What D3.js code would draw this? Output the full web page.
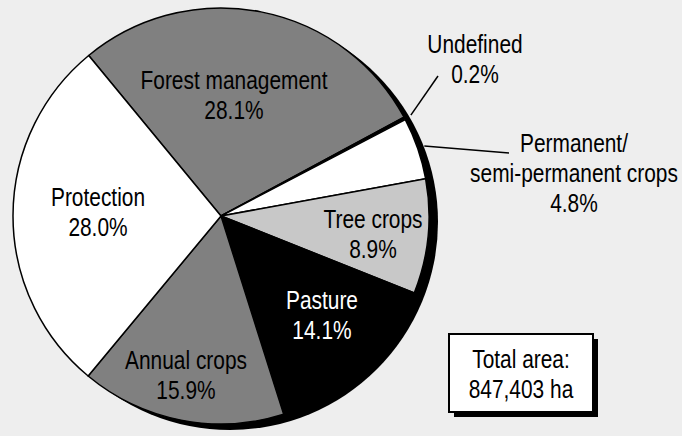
<!DOCTYPE html>
<html>
<head>
<meta charset="utf-8">
<script src="https://cdn.jsdelivr.net/npm/d3@7"></script>
<style>
  body { margin: 0; background: #eeeeee; }
  svg { display: block; }
  text { font-family: "Liberation Sans", Arial, sans-serif; font-size: 25.5px; }
</style>
</head>
<body>
<div id="chart"></div>
<script>
// land use shares, clockwise from the top-left
const categories = ["Forest management", "Undefined", "Permanent/\nsemi-permanent crops", "Tree crops", "Pasture", "Annual crops", "Protection"]
const shares = [28.1, 0.2, 4.8, 8.9, 14.1, 15.9, 28.0]
const fills = ["#808080", "#000000", "#ffffff", "#c8c8c8", "#000000", "#808080", "#ffffff"]
const totalArea = ["Total area:", "847,403 ha"]

// label placement (x, first baseline) and text colour
const labelPos = [
    [234, 89], [475, 53], [574, 152], [373, 228], [322, 309], [186, 369], [98, 206]
]
const labelColor = ["#000", "#000", "#000", "#000", "#fff", "#000", "#000"]
// leader line end points for the small outside slices
const leaders = { 1: [438, 76], 2: [509, 153] }

const width = 682
const height = 436
const cx = 221, cy = 216, radius = 208
const lineH = 30
const narrow = 0.82 // no narrow font installed, squeeze Liberation Sans instead

const svg = d3.select("#chart")
    .append("svg")
    .attr("width", width)
    .attr("height", height)

svg.append("rect")
    .attr("width", width)
    .attr("height", height)
    .attr("fill", "#eeeeee")

const data = categories.map(function(c, i) { return { name: c, value: shares[i], i: i } })

const startA = -39.5 * Math.PI / 180
const pie = d3.pie()
    .sort(null)
    .value(function(d) { return d.value })
    .startAngle(startA)
    .endAngle(startA + 2 * Math.PI)

const data_ready = pie(data)
const arc = d3.arc().innerRadius(0).outerRadius(radius)
const outerArc = d3.arc().innerRadius(radius + 7).outerRadius(radius + 7)

// drop shadow
svg.append("circle")
    .attr("cx", cx + 9)
    .attr("cy", cy + 6)
    .attr("r", radius)
    .attr("fill", "#000")

const g = svg.append("g")
    .attr("transform", "translate(" + cx + "," + cy + ")")

g.selectAll("path")
    .data(data_ready)
    .enter()
    .append("path")
    .attr("d", arc)
    .attr("fill", function(d) { return fills[d.data.i] })
    .attr("stroke", "#000")
    .attr("stroke-width", 1.5)
    .attr("stroke-linejoin", "round")

// leaders
g.selectAll("line.leader")
    .data(data_ready.filter(function(d) { return leaders[d.data.i] }))
    .enter()
    .append("line")
    .attr("class", "leader")
    .attr("x1", function(d) { return outerArc.centroid(d)[0] })
    .attr("y1", function(d) { return outerArc.centroid(d)[1] })
    .attr("x2", function(d) { return leaders[d.data.i][0] - cx })
    .attr("y2", function(d) { return leaders[d.data.i][1] - cy })
    .attr("stroke", "#000")
    .attr("stroke-width", 1.5)

function multiline(sel, lines, x, y0) {
    sel.attr("text-anchor", "middle")
        .attr("transform", "scale(" + narrow + ",1)")
        .selectAll("tspan")
        .data(lines)
        .enter()
        .append("tspan")
        .attr("x", x / narrow)
        .attr("y", function(l, k) { return y0 + k * lineH })
        .text(function(l) { return l })
}

svg.selectAll("text.label")
    .data(data_ready)
    .enter()
    .append("text")
    .attr("class", "label")
    .attr("fill", function(d) { return labelColor[d.data.i] })
    .each(function(d) {
        const lines = d.data.name.split("\n").concat([d.data.value.toFixed(1) + "%"])
        const pos = labelPos[d.data.i]
        multiline(d3.select(this), lines, pos[0], pos[1])
    })

// total area box
const box = { x: 449, y: 334, w: 144, h: 78 }
svg.append("rect")
    .attr("x", box.x + 5).attr("y", box.y + 5)
    .attr("width", box.w).attr("height", box.h)
    .attr("fill", "#000")
svg.append("rect")
    .attr("x", box.x).attr("y", box.y)
    .attr("width", box.w).attr("height", box.h)
    .attr("fill", "#fff")
    .attr("stroke", "#000")
    .attr("stroke-width", 2)
multiline(svg.append("text"), totalArea, box.x + box.w / 2, 368)
</script>
</body>
</html>
